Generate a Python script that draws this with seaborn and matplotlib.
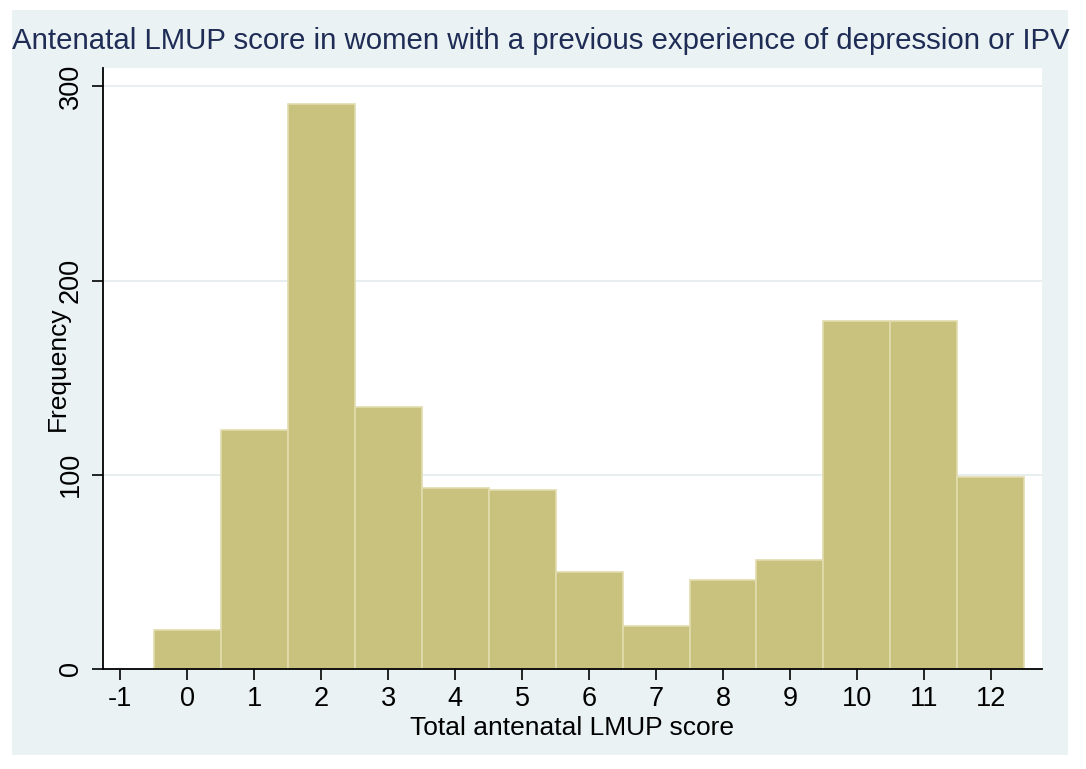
import seaborn as sns
import matplotlib.pyplot as plt
from matplotlib.patches import Rectangle

scores = [0, 1, 2, 3, 4, 5, 6, 7, 8, 9, 10, 11, 12]
freqs = [20, 123, 291, 135, 93, 92, 50, 22, 46, 56, 179, 179, 99]
xticks = list(range(-1, 13))
yticks = [0, 100, 200, 300]

bg = '#EAF2F3'
bar_color = '#C9C27F'
title_color = '#1F2D56'

sns.set_theme(style='white')
plt.rcParams['font.family'] = ['Liberation Sans', 'DejaVu Sans']
plt.rcParams['axes.unicode_minus'] = False

fig = plt.figure(figsize=(10.86, 7.69), dpi=100)
fig.patch.set_facecolor('white')
# Stata-like outer background band
fig.patches.append(Rectangle((12 / 1086, 14 / 769), (1068 - 12) / 1086, (764 - 19) / 769,
                             transform=fig.transFigure, facecolor=bg, edgecolor='none', zorder=-5))

ax = fig.add_axes([103 / 1086, 100 / 769, (1041.7 - 103) / 1086, (669 - 68) / 769])
ax.set_zorder(2)
ax.set_facecolor('white')

sns.histplot(x=scores, weights=freqs, discrete=True, ax=ax,
             color=bar_color, alpha=1, edgecolor='#E2DCAE', linewidth=1.2, zorder=2)

ax.set_xlim(-1.26, 12.76)
ax.set_ylim(0, 309.5)
ax.set_xticks(xticks)
ax.set_xticklabels([str(t) for t in xticks])
ax.set_yticks(yticks)
ax.set_yticklabels([str(t) for t in yticks])
ax.grid(axis='y', color='#E6EEF0', linewidth=1.4, zorder=0)
ax.set_axisbelow(True)

for s in ['top', 'right']:
    ax.spines[s].set_visible(False)
for s in ['left', 'bottom']:
    ax.spines[s].set_color('black')
    ax.spines[s].set_linewidth(1.3)

ax.tick_params(axis='both', direction='out', length=8, width=1.2, color='black',
               labelsize=19.5, labelcolor='black', bottom=True, left=True)
ax.tick_params(axis='x', pad=4)
ax.tick_params(axis='y', pad=6)
plt.setp(ax.get_yticklabels(), rotation=90, va='center')

ax.set_xlabel('Total antenatal LMUP score', fontsize=19, color='black', labelpad=3)
ax.set_ylabel('Frequency', fontsize=19, color='black')
ax.yaxis.set_label_coords(-0.035, 0.5)

fig.text(12 / 1086, 1 - 41 / 769, 'Antenatal LMUP score in women with a previous experience of depression or IPV',
         fontsize=21.2, color=title_color, ha='left', va='center')

fig.savefig('out.png', dpi=100)
